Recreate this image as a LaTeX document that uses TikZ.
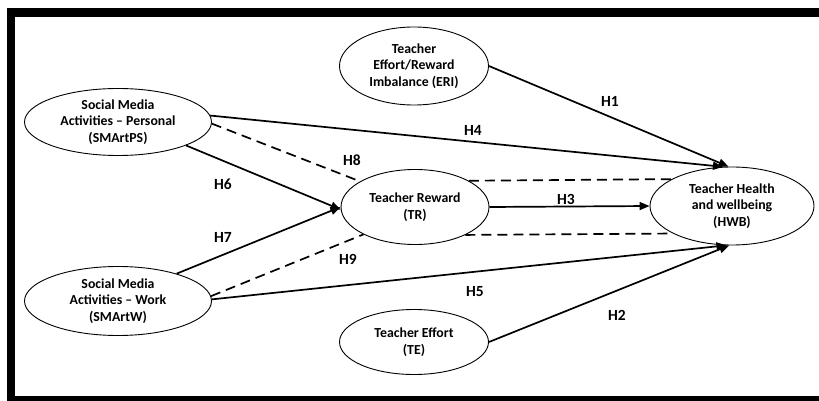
\documentclass[tikz,border=0pt]{standalone}
\usepackage{fontspec}
\setmainfont{Carlito}
\usetikzlibrary{arrows.meta,shapes.geometric}
\begin{document}
\begin{tikzpicture}[x=1pt,y=-1pt,
  construct/.style={draw,ellipse,line width=0.9pt,inner sep=0pt,align=center,
    font=\fontsize{13.8}{16.5}\selectfont\bfseries},
  path/.style={line width=1.7pt,-{Triangle[length=10pt,width=8pt]}},
  dpath/.style={line width=1.7pt,dash pattern=on 10pt off 6pt},
  hlabel/.style={font=\fontsize{15.5}{18}\selectfont\bfseries,inner sep=0pt}]
\useasboundingbox (0,0) rectangle (819,401);
\fill[white] (0,0) rectangle (819,401);
\fill[black] (7,8) rectangle (819,401);
\fill[white] (15,17) rectangle (819,396);
% constructs
\node[construct,minimum width=187pt,minimum height=67pt] (PS) at (118,122) {Social Media\\Activities -- Personal\\(SMArtPS)};
\node[construct,minimum width=149pt,minimum height=78pt] (ERI) at (414,66) {Teacher\\Effort/Reward\\Imbalance (ERI)};
\node[construct,minimum width=148pt,minimum height=75pt] (TR) at (415,207) {Teacher Reward\\(TR)};
\node[construct,minimum width=164pt,minimum height=78pt] (HWB) at (732,206) {Teacher Health\\and wellbeing\\(HWB)};
\node[construct,minimum width=187pt,minimum height=69pt] (W) at (118,301) {Social Media\\Activities -- Work\\(SMArtW)};
\node[construct,minimum width=149pt,minimum height=65pt] (TE) at (414,342) {Teacher Effort\\(TE)};
% paths
\draw[path] (ERI.east) -- (HWB.95);
\draw[path] (PS.4) -- (HWB.103);
\draw[dpath] (PS.-1) -- (TR.155);
\draw[path] (PS.341) -- (TR.182);
\draw[path] (W.25) -- (TR.180);
\draw[dpath] (W.3) -- (TR.208);
\draw[path] (W.1) -- (HWB.262);
\draw[path] (TE.east) -- (HWB.266);
\draw[path] (TR.east) -- (HWB.west);
\draw[dpath] (TR.26) -- (HWB.156);
\draw[dpath] (TR.331) -- (HWB.205);
% labels
\node[hlabel] (h1) at (610,101) {H1};
\node[hlabel] (h4) at (473,130) {H4};
\node[hlabel] (h8) at (352,160) {H8};
\node[hlabel] (h6) at (223,184) {H6};
\node[hlabel] (h7) at (223,237) {H7};
\node[hlabel] (h9) at (348,259) {H9};
\node[hlabel] (h3) at (566,199) {H3};
\node[hlabel] (h5) at (475,292) {H5};
\node[hlabel] (h2) at (617,315) {H2};
\end{tikzpicture}
\end{document}
